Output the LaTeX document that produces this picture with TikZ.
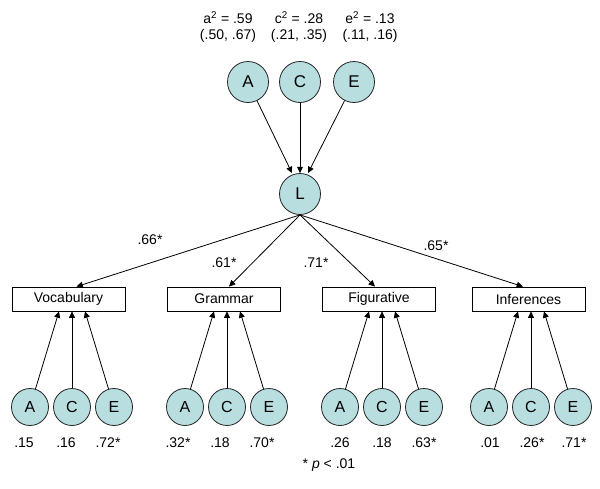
\documentclass[tikz,border=0pt]{standalone}
\usepackage{fontspec}
\setmainfont{Liberation Sans}
\usetikzlibrary{arrows.meta}
\definecolor{acefill}{RGB}{185,222,224}
\tikzset{%
  tipA/.tip={Triangle[angle=50:7pt]},
  latent/.style={circle, draw=black!85, fill=acefill, minimum size=41pt, inner sep=0pt,
    font=\fontsize{17}{20}\selectfont},
  latsm/.style={latent, minimum size=37pt, font=\fontsize{16}{19}\selectfont},
  obsbox/.style={draw, minimum width=113pt, minimum height=24pt, inner sep=0pt}
}

\begin{document}
\begin{tikzpicture}[x=1pt,y=-1pt,line width=0.8pt,font=\fontsize{14}{17}\selectfont]
\useasboundingbox (0,0) rectangle (600,488);
% common factor
\node[latent] (tA) at (248,82) {A};
\node[latent] (tC) at (300,82) {C};
\node[latent] (tE) at (354,82) {E};
\node[latent] (L) at (300,194) {L};
\node (ha) at (228,18) {a\textsuperscript{2} = .59};
\node (hc) at (299,18) {c\textsuperscript{2} = .28};
\node (he) at (370,18) {e\textsuperscript{2} = .13};
\node (cia) at (228,36) {(.50, .67)};
\node (cic) at (299,36) {(.21, .35)};
\node (cie) at (370,36) {(.11, .16)};
\draw[-tipA] (tA) -- ([xshift=-8pt]L.north);
\draw[-tipA] (tC) -- (L.north);
\draw[-tipA] (tE) -- ([xshift=8pt]L.north);
% measures
\node[obsbox] (voc) at (68.5,299) {Vocabulary};
\node[obsbox] (gra) at (224,299) {Grammar};
\node[obsbox] (fig) at (379,299) {Figurative};
\node[obsbox] (inf) at (528.5,299) {Inferences};
\draw[-tipA] (L.south) -- ([xshift=8pt]voc.north);
\draw[-tipA] (L.south) -- ([xshift=5pt]gra.north);
\draw[-tipA] (L.south) -- ([xshift=-4pt]fig.north);
\draw[-tipA] (L.south) -- ([xshift=-5.5pt]inf.north);
\node (lvoc) at (150,240) {.66*};
\node (lgra) at (224,263) {.61*};
\node (lfig) at (316,263) {.71*};
\node (linf) at (436,246) {.65*};
% specific A, C, E per measure
\foreach \g/\cx/\sh/\va/\vc/\ve in {voc/72/-6/.15/.16/.72*, gra/227/-7/.32*/.18/.70*, fig/382/0/.26/.18/.63*, inf/531/1/.01/.26*/.71*}{
  \node[latsm] (\g A) at ({\cx-42},407) {A};
  \node[latsm] (\g C) at (\cx,407) {C};
  \node[latsm] (\g E) at ({\cx+42},407) {E};
  \coordinate (\g m) at (\g C |- \g.south);
  \draw[-tipA] (\g A) -- ([xshift=-13pt]\g m);
  \draw[-tipA] (\g C) -- (\g m);
  \draw[-tipA] (\g E) -- ([xshift=13pt]\g m);
  \node (\g a) at ({\cx-42+(\sh)},443) {\va};
  \node (\g c) at ({\cx+(\sh)},443) {\vc};
  \node (\g e) at ({\cx+42+(\sh)},443) {\ve};
}
\node (note) at (329,465) {* \textit{p} < .01};
\end{tikzpicture}
\end{document}
